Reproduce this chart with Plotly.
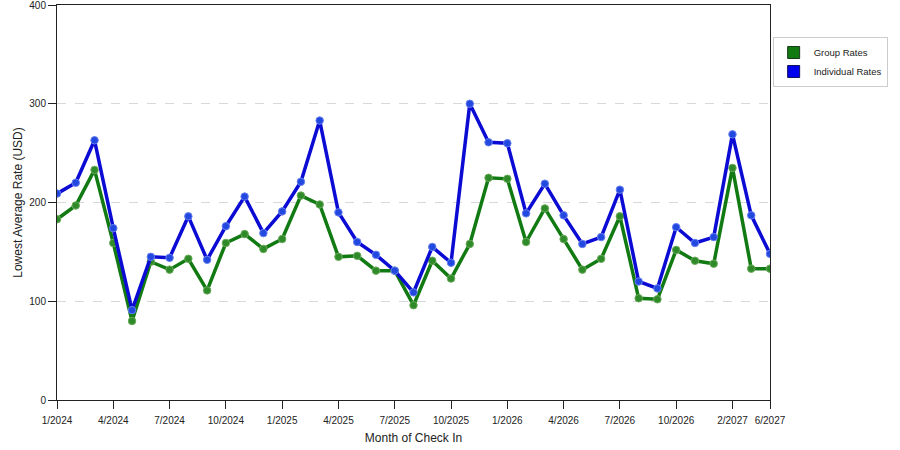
import plotly.graph_objects as go

# months of check in (category axis, some months have no data)
months = ["1/2024", "2/2024", "3/2024", "4/2024", "5/2024", "6/2024", "7/2024", "8/2024",
          "9/2024", "10/2024", "11/2024", "12/2024", "1/2025", "2/2025", "3/2025", "4/2025",
          "5/2025", "6/2025", "7/2025", "8/2025", "9/2025", "10/2025", "11/2025", "12/2025",
          "1/2026", "2/2026", "3/2026", "4/2026", "5/2026", "6/2026", "7/2026", "8/2026",
          "9/2026", "10/2026", "11/2026", "12/2026", "2/2027", "4/2027", "6/2027"]

group_rates = [183, 197, 233, 159, 80, 140, 132, 143, 111, 159, 168, 153, 163, 207, 198, 145,
               146, 131, 131, 96, 141, 123, 158, 225, 224, 160, 194, 163, 132, 143, 186, 103,
               102, 152, 141, 138, 235, 133, 133]

individual_rates = [209, 220, 263, 174, 91, 145, 144, 186, 142, 176, 206, 169, 191, 221, 283, 190,
                    160, 147, 131, 109, 155, 139, 300, 261, 260, 189, 219, 187, 158, 165, 213, 120,
                    113, 175, 159, 165, 269, 187, 148]

tick_months = ["1/2024", "4/2024", "7/2024", "10/2024", "1/2025", "4/2025", "7/2025", "10/2025",
               "1/2026", "4/2026", "7/2026", "10/2026", "2/2027", "6/2027"]

green = "#127a12"
blue = "#0b0bd4"

fig = go.Figure()
fig.add_trace(go.Scatter(x=months, y=group_rates, mode="lines+markers", name="Group Rates",
                         line=dict(color=green, width=3.5),
                         marker=dict(color="#2f8a2a", size=7.5, line=dict(color="#6aaa5a", width=1)),
                         showlegend=False))
fig.add_trace(go.Scatter(x=months, y=individual_rates, mode="lines+markers", name="Individual Rates",
                         line=dict(color=blue, width=3.5),
                         marker=dict(color="#2248e0", size=7.5, line=dict(color="#6680f0", width=1)),
                         showlegend=False))

# legend swatches (squares)
fig.add_trace(go.Scatter(x=[None], y=[None], mode="markers", name="Group Rates",
                         marker=dict(symbol="square", size=12, color="#117a11",
                                     line=dict(color="#1a3a1a", width=1))))
fig.add_trace(go.Scatter(x=[None], y=[None], mode="markers", name="Individual Rates",
                         marker=dict(symbol="square", size=12, color="#0000ee",
                                     line=dict(color="#10105a", width=1))))

fig.update_layout(
    width=900, height=450,
    margin=dict(l=57, r=130, t=5, b=50, autoexpand=False),
    paper_bgcolor="white", plot_bgcolor="white",
    font=dict(family="Liberation Sans, Arial, sans-serif", size=10, color="#222222"),
    legend=dict(x=1.165, y=0.919, xanchor="right", yanchor="top",
                bordercolor="#cccccc", borderwidth=1, bgcolor="white",
                font=dict(size=9.5), itemwidth=30, tracegroupgap=2),
    xaxis=dict(
        type="category", categoryorder="array", categoryarray=months,
        range=[0, len(months) - 1], automargin=False,
        tickmode="array", tickvals=tick_months, ticktext=tick_months,
        ticks="outside", ticklen=8, tickcolor="#222222", ticklabelstandoff=3,
        showline=True, linecolor="#222222", linewidth=1, mirror=True,
        showgrid=False, zeroline=False,
        title=dict(text="Month of Check In", standoff=8),
    ),
    yaxis=dict(
        range=[0, 400.01], tickmode="linear", tick0=0, dtick=100, automargin=False,
        ticks="outside", ticklen=8, tickcolor="#222222", ticklabeloverflow="allow",
        showline=True, linecolor="#222222", linewidth=1, mirror=True,
        showgrid=True, gridcolor="#d8d8d8", griddash="dash", zeroline=False,
        title=dict(text="Lowest Average Rate (USD)", standoff=4),
    ),
)

# drop the default page margin so the figure sits at the window's corner
fig.write_html("out.html", config={"displayModeBar": False},
               post_script="document.body.style.margin='0';")
